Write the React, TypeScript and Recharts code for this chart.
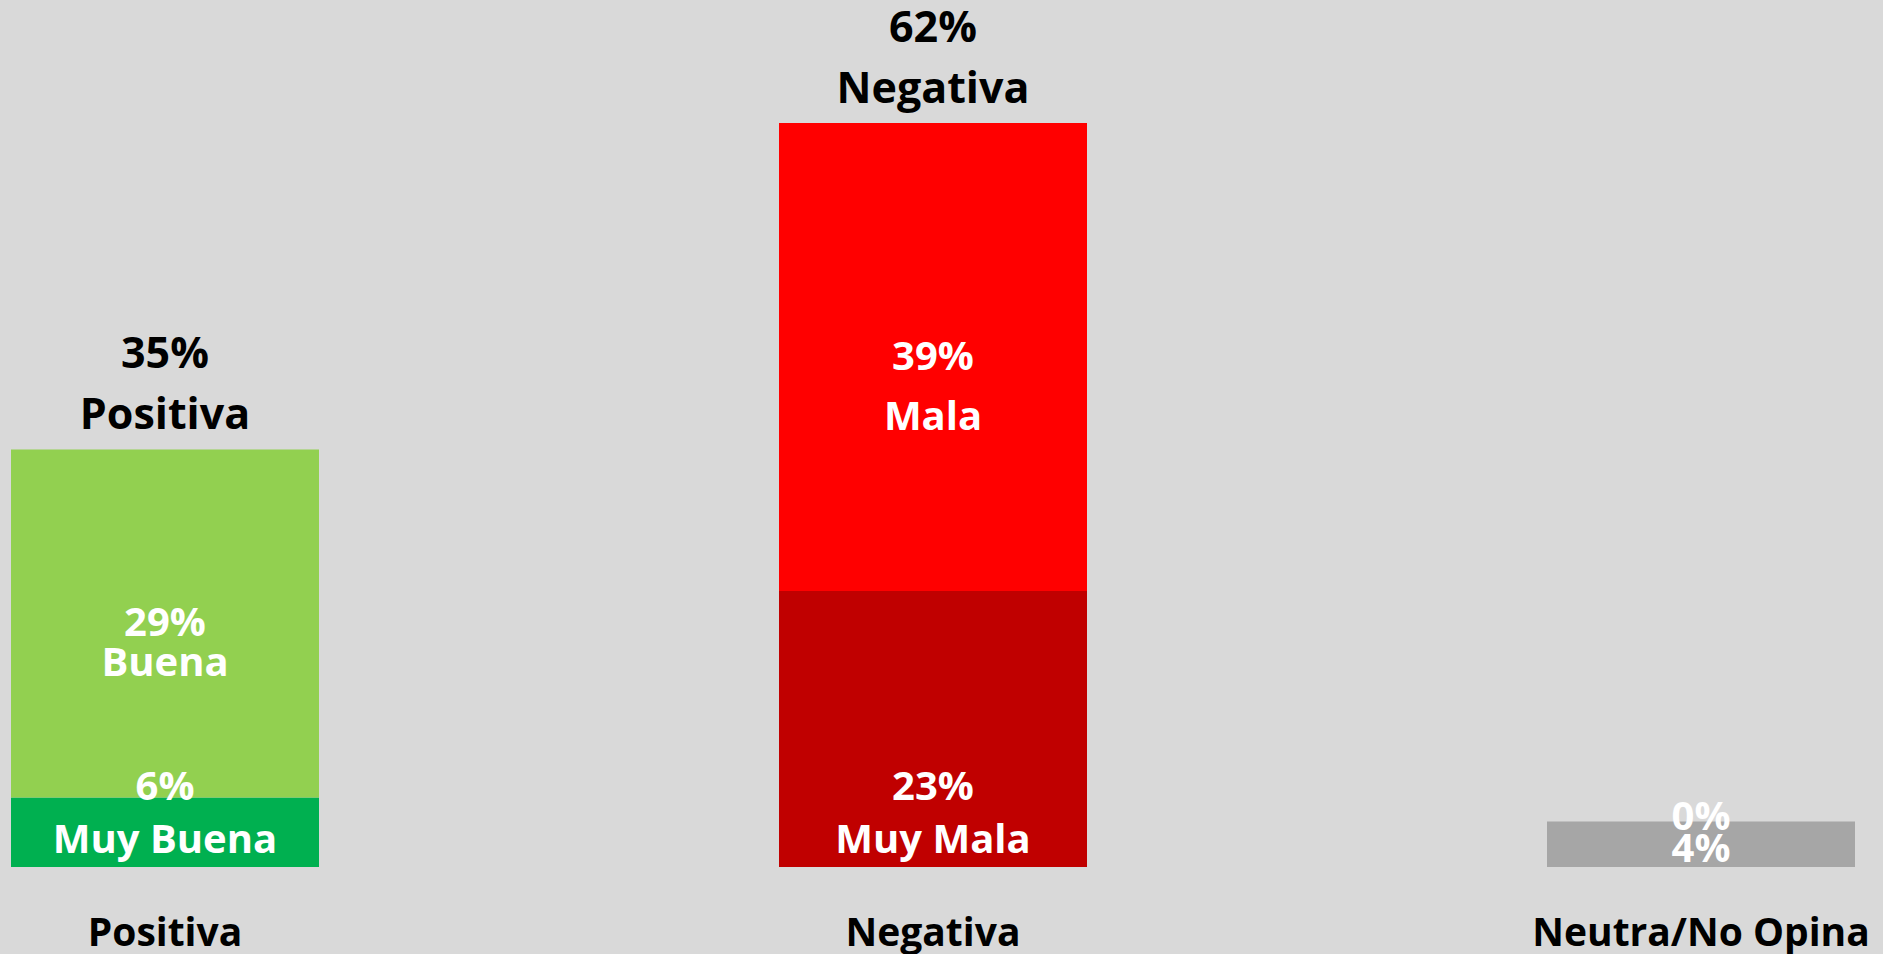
import { BarChart, Bar, Cell, XAxis, YAxis, LabelList } from "recharts";

const categories = ["Positiva", "Negativa", "Neutra/No Opina"];
// bottom segment (Muy Buena / Muy Mala / Neutra) and top segment (Buena / Mala / 0%)
const bottomValues = [5.8, 23, 3.8];
const topValues = [29, 39, 0];
const bottomNames = ["Muy Buena", "Muy Mala", ""];
const topNames = ["Buena", "Mala", ""];
const totalNames = ["Positiva", "Negativa", ""];

const bottomColors = ["#00B050", "#C00000", "#A6A6A6"];
const topColors = ["#92D050", "#FF0000", "#A6A6A6"];

const data = categories.map((name, i) => ({
  name,
  bottom: bottomValues[i],
  top: topValues[i],
}));

const FONT = "'Open Sans', sans-serif";
// spacing between "xx%" and the name inside the top segment
const topLineGap = [40, 60, 0];

const pct = (v: number) => `${Math.round(v)}%`;

function box(p: any) {
  const v = p.viewBox && p.viewBox.width !== undefined ? p.viewBox : p;
  return { x: Number(v.x), y: Number(v.y), w: Number(v.width), h: Number(v.height) };
}

function BottomLabel(props: any) {
  const { index } = props;
  const { x, y, w, h } = box(props);
  const cx = x + w / 2;
  const base = y + h;
  const name = bottomNames[index];
  const style = { fontFamily: FONT, fontWeight: 700, fontSize: 40, fill: "#FFFFFF" };
  if (!name) {
    // the empty top segment has no height, so its "0%" is drawn here at the join
    return (
      <g>
        {topValues[index] === 0 && (
          <text x={cx} y={y + 9} textAnchor="middle" style={style}>
            {pct(topValues[index])}
          </text>
        )}
        <text x={cx} y={base - 5} textAnchor="middle" style={style}>
          {pct(bottomValues[index])}
        </text>
      </g>
    );
  }
  return (
    <g>
      <text x={cx} y={base - 67} textAnchor="middle" style={style}>
        {pct(bottomValues[index])}
      </text>
      <text x={cx} y={base - 14} textAnchor="middle" style={style}>
        {name}
      </text>
    </g>
  );
}

function TopLabel(props: any) {
  const { index } = props;
  const { x, y, w, h } = box(props);
  if (!(h > 0)) return null;
  const cx = x + w / 2;
  const mid = y + h / 2;
  const name = topNames[index];
  const total = totalNames[index];
  const inner = { fontFamily: FONT, fontWeight: 700, fontSize: 40, fill: "#FFFFFF" };
  const outer = { fontFamily: FONT, fontWeight: 700, fontSize: 43, fill: "#000000" };
  return (
    <g>
      <text x={cx} y={mid + 13} textAnchor="middle" style={inner}>
        {pct(topValues[index])}
      </text>
      {name && (
        <text x={cx} y={mid + 13 + topLineGap[index]} textAnchor="middle" style={inner}>
          {name}
        </text>
      )}
      {total && (
        <>
          <text x={cx} y={y - 81} textAnchor="middle" style={outer}>
            {pct(bottomValues[index] + topValues[index])}
          </text>
          <text x={cx} y={y - 20} textAnchor="middle" style={outer}>
            {total}
          </text>
        </>
      )}
    </g>
  );
}

function AxisTick(props: any) {
  const { x, y, payload } = props;
  return (
    <text
      x={x}
      y={y + 71}
      textAnchor="middle"
      style={{ fontFamily: FONT, fontWeight: 700, fontSize: 39, fill: "#000000" }}
    >
      {payload.value}
    </text>
  );
}

export default function App() {
  return (
    <div
      style={{
        position: "absolute",
        left: 0,
        top: 0,
        width: 1883,
        height: 954,
        overflow: "hidden",
        background: "#D9D9D9",
      }}
    >
      <div style={{ marginLeft: -219 }}>
        <BarChart
          width={2304}
          height={954}
          data={data}
          margin={{ top: 27, right: 0, bottom: 0, left: 0 }}
          barSize={308}
        >
          <XAxis
            dataKey="name"
            height={87}
            axisLine={false}
            tickLine={false}
            interval={0}
            tick={<AxisTick />}
          />
          <YAxis hide domain={[0, 70]} />
          <Bar dataKey="bottom" stackId="a" isAnimationActive={false}>
            {data.map((d, i) => (
              <Cell key={`b-${i}`} fill={bottomColors[i]} />
            ))}
            <LabelList dataKey="bottom" content={<BottomLabel />} />
          </Bar>
          <Bar dataKey="top" stackId="a" isAnimationActive={false}>
            {data.map((d, i) => (
              <Cell key={`t-${i}`} fill={topColors[i]} />
            ))}
            <LabelList dataKey="top" content={<TopLabel />} />
          </Bar>
        </BarChart>
      </div>
    </div>
  );
}
